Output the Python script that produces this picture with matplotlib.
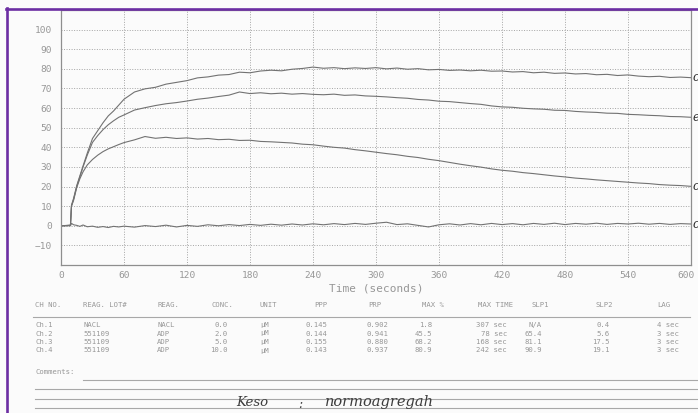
import matplotlib.pyplot as plt
import matplotlib.transforms as mtransforms
from matplotlib.lines import Line2D

# Aggregometer traces: % aggregation vs time (s)
times = [0, 9, 10, 12, 15, 18, 21, 25, 30, 35, 40, 45, 50, 55,
         60, 70, 80, 90, 100, 110, 120, 130, 140, 150, 160, 170, 180,
         190, 200, 210, 220, 230, 240, 250, 260, 270, 280, 290, 300,
         310, 320, 330, 340, 350, 360, 370, 380, 390, 400, 410, 420,
         430, 440, 450, 460, 470, 480, 490, 500, 510, 520, 530, 540,
         550, 560, 570, 580, 590, 600]

ch1 = [0, 0, 1.2, 0.5, 0.2, -0.3, 0.4, -0.5, -0.2, -0.8, -0.4, -0.9, -0.3, -0.6,
       -0.2, -0.7, 0.1, -0.4, 0.3, -0.6, 0.2, -0.3, 0.5, 0.0, 0.6, 0.1, 0.7,
       0.2, 0.8, 0.3, 0.9, 0.4, 1.0, 0.5, 1.1, 0.6, 1.2, 0.7, 1.3,
       1.8, 0.6, 1.0, 0.2, -0.6, 0.5, 1.0, 0.4, 1.1, 0.5, 1.2, 0.6,
       1.1, 0.5, 1.2, 0.7, 1.3, 0.6, 1.2, 0.8, 1.3, 0.7, 1.2, 0.9,
       1.3, 0.8, 1.2, 0.7, 1.1, 0.9]

ch2 = [0, 0.2, 10, 13, 19.5, 24, 27.5, 31, 33.8, 36, 37.8, 39.2, 40.3, 41.4,
       42.4, 43.8, 45.5, 44.6, 45.1, 44.5, 44.8, 44.2, 44.5, 43.9, 44.1, 43.5, 43.6,
       43.0, 42.8, 42.5, 42.2, 41.6, 41.3, 40.6, 40.0, 39.6, 38.8, 38.2, 37.5,
       36.8, 36.2, 35.4, 34.8, 33.9, 33.2, 32.3, 31.4, 30.6, 29.9, 29.0, 28.3,
       27.8, 27.1, 26.6, 26.0, 25.4, 24.9, 24.3, 23.9, 23.4, 23.0, 22.6, 22.2,
       21.8, 21.5, 21.0, 20.7, 20.5, 20.1]

ch3 = [0, 0.2, 10.2, 13.5, 20, 25, 30, 36, 42.5, 46, 49, 51.5, 53.5, 55.3,
       56.5, 59.0, 60.2, 61.3, 62.2, 62.8, 63.6, 64.5, 65.1, 65.9, 66.6, 68.2, 67.4,
       67.8, 67.3, 67.6, 67.1, 67.4, 67.0, 66.8, 67.1, 66.5, 66.7, 66.2, 66.0,
       65.7, 65.3, 65.0, 64.4, 64.1, 63.5, 63.3, 62.8, 62.3, 61.9, 61.1, 60.6,
       60.4, 59.9, 59.6, 59.4, 58.9, 58.8, 58.3, 58.0, 57.8, 57.4, 57.3, 56.8,
       56.6, 56.3, 56.1, 55.7, 55.6, 55.3]

ch4 = [0, 0.3, 10.5, 14, 20.5, 25.5, 30.5, 37, 44.5, 48.5, 52.5, 56, 58.5, 61.5,
       64.5, 68.2, 69.8, 70.6, 72.2, 73.1, 74.0, 75.4, 75.9, 76.8, 77.1, 78.3, 78.0,
       78.9, 79.3, 79.0, 79.8, 80.2, 80.9, 80.3, 80.6, 80.1, 80.5, 80.2, 80.6,
       80.0, 80.4, 79.8, 80.1, 79.5, 79.7, 79.2, 79.4, 79.0, 79.3, 78.8, 78.9,
       78.4, 78.6, 78.0, 78.3, 77.7, 77.9, 77.4, 77.6, 77.0, 77.2, 76.6, 76.9,
       76.3, 76.0, 76.2, 75.6, 75.8, 75.5]

y_ticks = [-10, 0, 10, 20, 30, 40, 50, 60, 70, 80, 90, 100]
x_ticks = [0, 60, 120, 180, 240, 300, 360, 420, 480, 540, 600]

# pen marks at the right end of each trace (ch1..ch4)
trace_marks = ["c", "c", "e", "c"]

# Results table
ch_no = ["Ch.1", "Ch.2", "Ch.3", "Ch.4"]
reag_lot = ["NACL", "551109", "551109", "551109"]
reag = ["NACL", "ADP", "ADP", "ADP"]
conc = ["0.0", "2.0", "5.0", "10.0"]
unit = ["\u00b5M", "\u00b5M", "\u00b5M", "\u00b5M"]
ppp = ["0.145", "0.144", "0.155", "0.143"]
prp = ["0.902", "0.941", "0.880", "0.937"]
max_pct = ["1.8", "45.5", "68.2", "80.9"]
max_time = ["307 sec", "78 sec", "168 sec", "242 sec"]
slp1 = ["N/A", "65.4", "81.1", "90.9"]
slp2 = ["0.4", "5.6", "17.5", "19.1"]
lag = ["4 sec", "3 sec", "3 sec", "3 sec"]

W, H = 698, 413
PRINT = "#979797"
MONO = "DejaVu Sans Mono"


def fx(px):
    return px / W


def fy(py):
    return 1 - py / H


fig = plt.figure(figsize=(W / 100, H / 100), dpi=100, facecolor="#fbfbfb")
ax = fig.add_axes([fx(61), fy(265), (691 - 61) / W, (265 - 10) / H])
ax.set_facecolor("#fbfbfb")

for series in (ch1, ch2, ch3, ch4):
    ax.plot(times, series, color="#727272", linewidth=0.8)

ax.set_xlim(0, 600)
ax.set_ylim(-20, 110)
ax.set_xticks(x_ticks)
ax.set_yticks(y_ticks)
ax.grid(True, linestyle=(0, (1, 1.6)), color="#a4a4a4", linewidth=0.7)
ax.tick_params(length=0, labelsize=6.8, labelcolor=PRINT)
ax.tick_params(axis="y", pad=6.5)
ax.tick_params(axis="x", pad=4)
for lab in ax.get_xticklabels() + ax.get_yticklabels():
    lab.set_family(MONO)
# pull the last time label inside the page
last = ax.get_xticklabels()[-1]
last.set_transform(last.get_transform()
                   + mtransforms.ScaledTranslation(-5 / 100, 0, fig.dpi_scale_trans))
for sp in ax.spines.values():
    sp.set_color("#8e8e8e")
    sp.set_linewidth(0.9)
ax.set_xlabel("Time (seconds)", family=MONO, fontsize=8, color=PRINT, labelpad=3)

# channel marks written beside the traces
for lab, series in zip(trace_marks, (ch1, ch2, ch3, ch4)):
    ax.annotate(lab, xy=(600, series[-1]), xytext=(1, 0), textcoords="offset points",
                va="center", ha="left", fontsize=8.5, style="italic",
                family="DejaVu Serif", color="#2e2e2e", annotation_clip=False)

# table columns: header, values, header x, value x, value alignment
columns = [
    ("CH NO.", ch_no, 35, 35, "left"),
    ("REAG. LOT#", reag_lot, 83, 83, "left"),
    ("REAG.", reag, 157, 157, "left"),
    ("CONC.", conc, 212, 228, "right"),
    ("UNIT", unit, 260, 260, "left"),
    ("PPP", ppp, 314, 305, "left"),
    ("PRP", prp, 368, 367, "left"),
    ("MAX %", max_pct, 422, 432, "right"),
    ("MAX TIME", max_time, 478, 507, "right"),
    ("SLP1", slp1, 532, 542, "right"),
    ("SLP2", slp2, 595, 610, "right"),
    ("LAG", lag, 657, 657, "left"),
]
row_y = [325, 333.5, 342, 350.5]
for header, vals, hx, vx, ha in columns:
    fig.text(fx(hx), fy(305), header, family=MONO, fontsize=5.2,
             color=PRINT, va="center", ha="left")
    for v, ry in zip(vals, row_y):
        fig.text(fx(vx), fy(ry), v, family=MONO, fontsize=5.2,
                 color=PRINT, va="center", ha=ha)

fig.text(fx(35), fy(372), "Comments:", family=MONO, fontsize=5.2,
         color=PRINT, va="center", ha="left")

# ruled lines of the form
rules = [(33, 690, 317), (83, 698, 380), (35, 698, 389), (35, 698, 399), (35, 698, 408)]
for x0, x1, yy in rules:
    fig.add_artist(Line2D([fx(x0), fx(x1)], [fy(yy), fy(yy)],
                          color="#a8a8a8", linewidth=0.8))

# handwritten note
hand = dict(family="DejaVu Serif", style="italic", color="#3c3c3c",
            va="center", ha="left")
fig.text(fx(236), fy(402), "Keso", fontsize=9.5, **hand)
fig.text(fx(298), fy(404), ":", fontsize=9, **hand)
fig.text(fx(325), fy(402), "normoagregah", fontsize=10.5, **hand)

# purple frame on top and left
fig.add_artist(Line2D([fx(6), fx(698)], [fy(8.5), fy(8.5)],
                      color="#6c2ea3", linewidth=1.9))
fig.add_artist(Line2D([fx(7), fx(7)], [fy(8), fy(413)],
                      color="#6c2ea3", linewidth=1.9))

fig.savefig("out.png", dpi=100, facecolor=fig.get_facecolor())
